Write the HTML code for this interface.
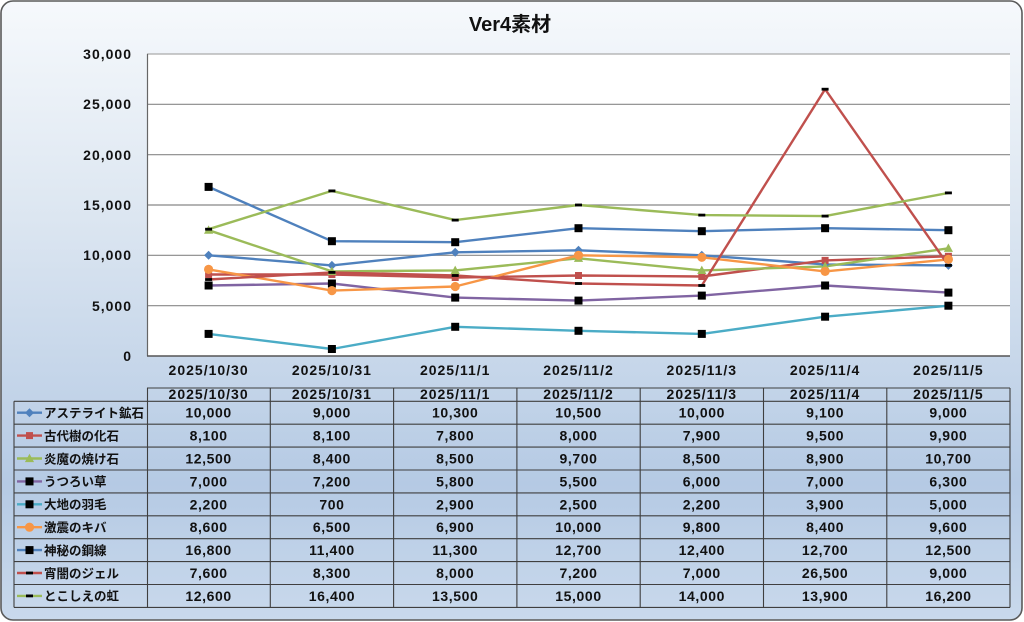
<!DOCTYPE html>
<html><head><meta charset="utf-8"><style>
html,body{margin:0;padding:0;width:1024px;height:622px;overflow:hidden;background:#fff}
svg{display:block}
text{font-family:"Liberation Sans","Noto Sans CJK JP",sans-serif;fill:#111}
.ax{font-size:14px;font-weight:bold;letter-spacing:1px}
.v{font-size:14px;font-weight:bold;letter-spacing:0.6px;text-anchor:middle}
.lg{font-size:12.5px;font-weight:bold}
</style></head><body>
<svg width="1024" height="622" viewBox="0 0 1024 622" xmlns="http://www.w3.org/2000/svg">
<defs>
<linearGradient id="bg" x1="0" y1="0" x2="0" y2="1">
<stop offset="0" stop-color="#f6f9fc"/>
<stop offset="0.35" stop-color="#dce6f1"/>
<stop offset="0.78" stop-color="#b5cae4"/>
<stop offset="1" stop-color="#c9d9ec"/>
</linearGradient>
<path id="dia" d="M0,-4.5 L4.5,0 L0,4.5 L-4.5,0Z" fill="#4F81BD"/>
<rect id="sqr" x="-3.5" y="-3.5" width="7" height="7" fill="#C0504D"/>
<path id="tri" d="M0,-4.8 L4.6,3.6 L-4.6,3.6Z" fill="#9BBB59"/>
<rect id="blk" x="-4" y="-4" width="8" height="8" fill="#000"/>
<circle id="cir" r="4.6" fill="#F79646"/>
<rect id="dsh" x="-3.5" y="-1.4" width="7" height="2.8" fill="#000"/>
</defs>
<rect x="1" y="1" width="1021" height="619" rx="12" ry="12" fill="url(#bg)" stroke="#5a5a5a" stroke-width="1.6"/>
<text x="510" y="31" text-anchor="middle" style="font-size:20px;font-weight:bold">Ver4素材</text>

<rect x="147" y="54" width="863" height="302" fill="#fff"/>
<g stroke="#888" stroke-width="1.2">
<line x1="147" y1="54" x2="1010" y2="54" stroke="#aaa"/>
<line x1="147" y1="104.3" x2="1010" y2="104.3"/>
<line x1="147" y1="154.7" x2="1010" y2="154.7"/>
<line x1="147" y1="205" x2="1010" y2="205"/>
<line x1="147" y1="255.3" x2="1010" y2="255.3"/>
<line x1="147" y1="305.7" x2="1010" y2="305.7"/>
</g>
<line x1="147.5" y1="54" x2="147.5" y2="356" stroke="#666" stroke-width="1.2"/>
<line x1="147" y1="356" x2="1010" y2="356" stroke="#555" stroke-width="1.4"/>

<g class="ax" text-anchor="end">
<text x="132" y="59">30,000</text>
<text x="132" y="109">25,000</text>
<text x="132" y="160">20,000</text>
<text x="132" y="210">15,000</text>
<text x="132" y="260">10,000</text>
<text x="132" y="311">5,000</text>
<text x="132" y="361">0</text>
</g>
<g class="ax" text-anchor="middle">
<text x="208.6" y="375">2025/10/30</text>
<text x="331.9" y="375">2025/10/31</text>
<text x="455.2" y="375">2025/11/1</text>
<text x="578.5" y="375">2025/11/2</text>
<text x="701.8" y="375">2025/11/3</text>
<text x="825.1" y="375">2025/11/4</text>
<text x="948.4" y="375">2025/11/5</text>
</g>

<g fill="none" stroke-width="2.4" stroke-linejoin="round">
<polyline stroke="#4F81BD" points="208.6,255.3 331.9,265.4 455.2,252.3 578.5,250.3 701.8,255.3 825.1,264.4 948.4,265.4"/>
<polyline stroke="#C0504D" points="208.6,274.5 331.9,274.5 455.2,277.5 578.5,275.5 701.8,276.5 825.1,260.4 948.4,256.3"/>
<polyline stroke="#9BBB59" points="208.6,230.2 331.9,271.4 455.2,270.4 578.5,258.3 701.8,270.4 825.1,266.4 948.4,248.3"/>
<polyline stroke="#8064A2" points="208.6,285.5 331.9,283.5 455.2,297.6 578.5,300.6 701.8,295.6 825.1,285.5 948.4,292.6"/>
<polyline stroke="#4BACC6" points="208.6,333.9 331.9,349 455.2,326.8 578.5,330.8 701.8,333.9 825.1,316.7 948.4,305.7"/>
<polyline stroke="#F79646" points="208.6,269.4 331.9,290.6 455.2,286.5 578.5,255.3 701.8,257.3 825.1,271.4 948.4,259.4"/>
<polyline stroke="#4F81BD" points="208.6,186.9 331.9,241.2 455.2,242.2 578.5,228.2 701.8,231.2 825.1,228.2 948.4,230.2"/>
<polyline stroke="#C0504D" points="208.6,279.5 331.9,272.4 455.2,275.5 578.5,283.5 701.8,285.5 825.1,89.2 948.4,265.4"/>
<polyline stroke="#9BBB59" points="208.6,229.2 331.9,190.9 455.2,220.1 578.5,205 701.8,215.1 825.1,216.1 948.4,192.9"/>
</g>
<g>
<use href="#dia" x="208.6" y="255.3"/><use href="#dia" x="331.9" y="265.4"/><use href="#dia" x="455.2" y="252.3"/><use href="#dia" x="578.5" y="250.3"/><use href="#dia" x="701.8" y="255.3"/><use href="#dia" x="825.1" y="264.4"/><use href="#dia" x="948.4" y="265.4"/>
<use href="#sqr" x="208.6" y="274.5"/><use href="#sqr" x="331.9" y="274.5"/><use href="#sqr" x="455.2" y="277.5"/><use href="#sqr" x="578.5" y="275.5"/><use href="#sqr" x="701.8" y="276.5"/><use href="#sqr" x="825.1" y="260.4"/><use href="#sqr" x="948.4" y="256.3"/>
<use href="#tri" x="208.6" y="230.2"/><use href="#tri" x="331.9" y="271.4"/><use href="#tri" x="455.2" y="270.4"/><use href="#tri" x="578.5" y="258.3"/><use href="#tri" x="701.8" y="270.4"/><use href="#tri" x="825.1" y="266.4"/><use href="#tri" x="948.4" y="248.3"/>
<use href="#blk" x="208.6" y="285.5"/><use href="#blk" x="331.9" y="283.5"/><use href="#blk" x="455.2" y="297.6"/><use href="#blk" x="578.5" y="300.6"/><use href="#blk" x="701.8" y="295.6"/><use href="#blk" x="825.1" y="285.5"/><use href="#blk" x="948.4" y="292.6"/>
<use href="#blk" x="208.6" y="333.9"/><use href="#blk" x="331.9" y="349"/><use href="#blk" x="455.2" y="326.8"/><use href="#blk" x="578.5" y="330.8"/><use href="#blk" x="701.8" y="333.9"/><use href="#blk" x="825.1" y="316.7"/><use href="#blk" x="948.4" y="305.7"/>
<use href="#cir" x="208.6" y="269.4"/><use href="#cir" x="331.9" y="290.6"/><use href="#cir" x="455.2" y="286.5"/><use href="#cir" x="578.5" y="255.3"/><use href="#cir" x="701.8" y="257.3"/><use href="#cir" x="825.1" y="271.4"/><use href="#cir" x="948.4" y="259.4"/>
<use href="#blk" x="208.6" y="186.9"/><use href="#blk" x="331.9" y="241.2"/><use href="#blk" x="455.2" y="242.2"/><use href="#blk" x="578.5" y="228.2"/><use href="#blk" x="701.8" y="231.2"/><use href="#blk" x="825.1" y="228.2"/><use href="#blk" x="948.4" y="230.2"/>
<use href="#dsh" x="208.6" y="279.5"/><use href="#dsh" x="331.9" y="272.4"/><use href="#dsh" x="455.2" y="275.5"/><use href="#dsh" x="578.5" y="283.5"/><use href="#dsh" x="701.8" y="285.5"/><use href="#dsh" x="825.1" y="89.2"/><use href="#dsh" x="948.4" y="265.4"/>
<use href="#dsh" x="208.6" y="229.2"/><use href="#dsh" x="331.9" y="190.9"/><use href="#dsh" x="455.2" y="220.1"/><use href="#dsh" x="578.5" y="205"/><use href="#dsh" x="701.8" y="215.1"/><use href="#dsh" x="825.1" y="216.1"/><use href="#dsh" x="948.4" y="192.9"/>
</g>

<g class="ax" text-anchor="middle">
<text x="208.6" y="399">2025/10/30</text>
<text x="331.9" y="399">2025/10/31</text>
<text x="455.2" y="399">2025/11/1</text>
<text x="578.5" y="399">2025/11/2</text>
<text x="701.8" y="399">2025/11/3</text>
<text x="825.1" y="399">2025/11/4</text>
<text x="948.4" y="399">2025/11/5</text>
</g>
<g stroke="#3f3f3f" stroke-width="1.1">
<line x1="147" y1="388" x2="1010" y2="388"/>
<line x1="14" y1="401.3" x2="1010" y2="401.3"/>
<line x1="14" y1="424.2" x2="1010" y2="424.2"/>
<line x1="14" y1="447.1" x2="1010" y2="447.1"/>
<line x1="14" y1="470" x2="1010" y2="470"/>
<line x1="14" y1="492.9" x2="1010" y2="492.9"/>
<line x1="14" y1="515.8" x2="1010" y2="515.8"/>
<line x1="14" y1="538.7" x2="1010" y2="538.7"/>
<line x1="14" y1="561.6" x2="1010" y2="561.6"/>
<line x1="14" y1="584.5" x2="1010" y2="584.5"/>
<line x1="14" y1="607.4" x2="1010" y2="607.4"/>
<line x1="14" y1="401.3" x2="14" y2="607.4"/>
<line x1="147.5" y1="388" x2="147.5" y2="607.4"/>
<line x1="270.3" y1="388" x2="270.3" y2="607.4"/>
<line x1="393.6" y1="388" x2="393.6" y2="607.4"/>
<line x1="516.9" y1="388" x2="516.9" y2="607.4"/>
<line x1="640.2" y1="388" x2="640.2" y2="607.4"/>
<line x1="763.5" y1="388" x2="763.5" y2="607.4"/>
<line x1="886.8" y1="388" x2="886.8" y2="607.4"/>
<line x1="1010" y1="388" x2="1010" y2="607.4"/>
</g>

<g stroke-width="2.4">
<line x1="17" y1="412.7" x2="42" y2="412.7" stroke="#4F81BD"/>
<line x1="17" y1="435.6" x2="42" y2="435.6" stroke="#C0504D"/>
<line x1="17" y1="458.5" x2="42" y2="458.5" stroke="#9BBB59"/>
<line x1="17" y1="481.4" x2="42" y2="481.4" stroke="#8064A2"/>
<line x1="17" y1="504.3" x2="42" y2="504.3" stroke="#4BACC6"/>
<line x1="17" y1="527.2" x2="42" y2="527.2" stroke="#F79646"/>
<line x1="17" y1="550.1" x2="42" y2="550.1" stroke="#4F81BD"/>
<line x1="17" y1="573" x2="42" y2="573" stroke="#C0504D"/>
<line x1="17" y1="595.9" x2="42" y2="595.9" stroke="#9BBB59"/>
</g>
<use href="#dia" x="29.5" y="412.7"/>
<use href="#sqr" x="29.5" y="435.6"/>
<use href="#tri" x="29.5" y="458.5"/>
<use href="#blk" x="29.5" y="481.4"/>
<use href="#blk" x="29.5" y="504.3"/>
<use href="#cir" x="29.5" y="527.2"/>
<use href="#blk" x="29.5" y="550.1"/>
<use href="#dsh" x="29.5" y="573"/>
<use href="#dsh" x="29.5" y="595.9"/>
<g class="lg">
<text x="44" y="417.5">アステライト鉱石</text>
<text x="44" y="440.4">古代樹の化石</text>
<text x="44" y="463.3">炎魔の焼け石</text>
<text x="44" y="486.2">うつろい草</text>
<text x="44" y="509.1">大地の羽毛</text>
<text x="44" y="532">激震のキバ</text>
<text x="44" y="554.9">神秘の鋼線</text>
<text x="44" y="577.8">宵闇のジェル</text>
<text x="44" y="600.7">とこしえの虹</text>
</g>

<g class="v">
<text x="208.6" y="417.7">10,000</text><text x="331.9" y="417.7">9,000</text><text x="455.2" y="417.7">10,300</text><text x="578.5" y="417.7">10,500</text><text x="701.8" y="417.7">10,000</text><text x="825.1" y="417.7">9,100</text><text x="948.4" y="417.7">9,000</text>
<text x="208.6" y="440.6">8,100</text><text x="331.9" y="440.6">8,100</text><text x="455.2" y="440.6">7,800</text><text x="578.5" y="440.6">8,000</text><text x="701.8" y="440.6">7,900</text><text x="825.1" y="440.6">9,500</text><text x="948.4" y="440.6">9,900</text>
<text x="208.6" y="463.5">12,500</text><text x="331.9" y="463.5">8,400</text><text x="455.2" y="463.5">8,500</text><text x="578.5" y="463.5">9,700</text><text x="701.8" y="463.5">8,500</text><text x="825.1" y="463.5">8,900</text><text x="948.4" y="463.5">10,700</text>
<text x="208.6" y="486.4">7,000</text><text x="331.9" y="486.4">7,200</text><text x="455.2" y="486.4">5,800</text><text x="578.5" y="486.4">5,500</text><text x="701.8" y="486.4">6,000</text><text x="825.1" y="486.4">7,000</text><text x="948.4" y="486.4">6,300</text>
<text x="208.6" y="509.3">2,200</text><text x="331.9" y="509.3">700</text><text x="455.2" y="509.3">2,900</text><text x="578.5" y="509.3">2,500</text><text x="701.8" y="509.3">2,200</text><text x="825.1" y="509.3">3,900</text><text x="948.4" y="509.3">5,000</text>
<text x="208.6" y="532.2">8,600</text><text x="331.9" y="532.2">6,500</text><text x="455.2" y="532.2">6,900</text><text x="578.5" y="532.2">10,000</text><text x="701.8" y="532.2">9,800</text><text x="825.1" y="532.2">8,400</text><text x="948.4" y="532.2">9,600</text>
<text x="208.6" y="555.1">16,800</text><text x="331.9" y="555.1">11,400</text><text x="455.2" y="555.1">11,300</text><text x="578.5" y="555.1">12,700</text><text x="701.8" y="555.1">12,400</text><text x="825.1" y="555.1">12,700</text><text x="948.4" y="555.1">12,500</text>
<text x="208.6" y="578">7,600</text><text x="331.9" y="578">8,300</text><text x="455.2" y="578">8,000</text><text x="578.5" y="578">7,200</text><text x="701.8" y="578">7,000</text><text x="825.1" y="578">26,500</text><text x="948.4" y="578">9,000</text>
<text x="208.6" y="600.9">12,600</text><text x="331.9" y="600.9">16,400</text><text x="455.2" y="600.9">13,500</text><text x="578.5" y="600.9">15,000</text><text x="701.8" y="600.9">14,000</text><text x="825.1" y="600.9">13,900</text><text x="948.4" y="600.9">16,200</text>
</g>
</svg>
</body></html>
